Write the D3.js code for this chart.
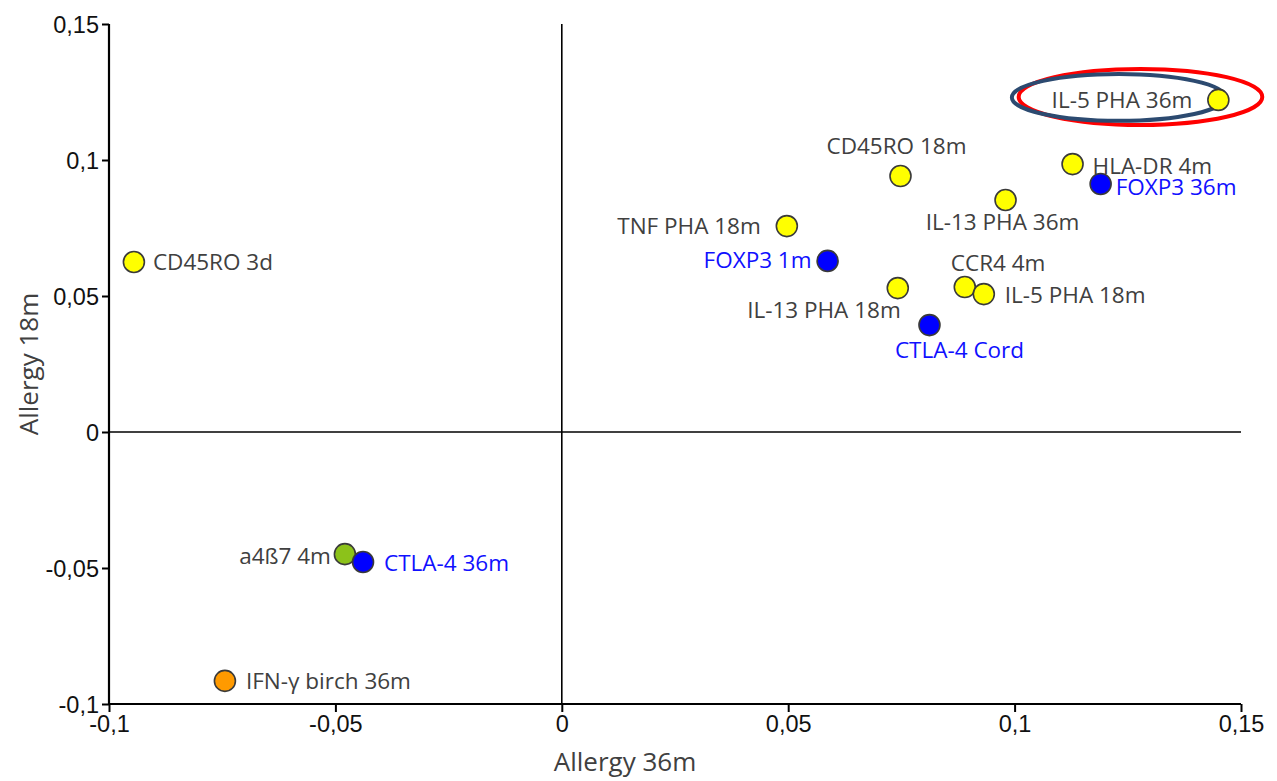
<!DOCTYPE html>
<html>
<head>
<meta charset="utf-8">
<script src="https://cdn.jsdelivr.net/npm/d3@7"></script>
<style>
  body { margin: 0; background: #fff; }
  svg { font-family: "Open Sans", sans-serif; }
</style>
</head>
<body>
<svg id="grafico"></svg>
<script>
// datos
const etiquetas = ["IL-5 PHA 36m", "HLA-DR 4m", "FOXP3 36m", "CD45RO 18m", "IL-13 PHA 36m",
  "TNF PHA 18m", "CD45RO 3d", "FOXP3 1m", "IL-13 PHA 18m", "CCR4 4m",
  "IL-5 PHA 18m", "CTLA-4 Cord", "a4ß7 4m", "CTLA-4 36m", "IFN-γ birch 36m"];
const valoresX = [0.1450, 0.1128, 0.1190, 0.0748, 0.0980,
  0.0497, -0.0945, 0.0587, 0.0742, 0.0890,
  0.0932, 0.0812, -0.0479, -0.0439, -0.0744];
const valoresY = [0.1221, 0.0985, 0.0912, 0.0941, 0.0853,
  0.0757, 0.0625, 0.0629, 0.0529, 0.0533,
  0.0507, 0.0393, -0.0449, -0.0478, -0.0915];
const grupos = ["otro", "otro", "treg", "otro", "otro",
  "otro", "otro", "treg", "otro", "otro",
  "otro", "treg", "integrina", "treg", "ifn"];

const ticksX = [-0.1, -0.05, 0, 0.05, 0.1, 0.15];
const ticksY = [-0.1, -0.05, 0, 0.05, 0.1, 0.15];

// elipses que marcan IL-5 PHA 36m (centro x, centro y, radio x, radio y)
const elipsesCx = [0.1278, 0.1230];
const elipsesCy = [0.1232, 0.1230];
const elipsesRx = [0.0269, 0.0236];
const elipsesRy = [0.0103, 0.0086];

const WIDTH = 1277, HEIGHT = 781;
const margins = { top: 24, bottom: 77, left: 109, right: 36 };

const colorPunto = { otro: "#ffff00", treg: "#0000ff", integrina: "#8cc21a", ifn: "#ff9a00" };
const colorTexto = { otro: "#404040", treg: "#1010ff", integrina: "#404040", ifn: "#404040" };
const colorElipse = ["#ff0000", "#2c4a70"];

// ubicacion de cada etiqueta respecto a su punto
const ubicacion = {
  "IL-5 PHA 36m": { anchor: "end", dx: -26, dy: 0 },
  "HLA-DR 4m": { anchor: "start", dx: 20, dy: 1 },
  "FOXP3 36m": { anchor: "start", dx: 15, dy: 3 },
  "CD45RO 18m": { anchor: "middle", dx: -4, dy: -31 },
  "IL-13 PHA 36m": { anchor: "middle", dx: -3, dy: 22 },
  "TNF PHA 18m": { anchor: "end", dx: -26, dy: -1 },
  "CD45RO 3d": { anchor: "start", dx: 19, dy: -1 },
  "FOXP3 1m": { anchor: "end", dx: -16, dy: -1 },
  "IL-13 PHA 18m": { anchor: "end", dx: 3, dy: 21 },
  "CCR4 4m": { anchor: "start", dx: -14, dy: -25 },
  "IL-5 PHA 18m": { anchor: "start", dx: 21, dy: 0 },
  "CTLA-4 Cord": { anchor: "middle", dx: 30, dy: 24 },
  "a4ß7 4m": { anchor: "end", dx: -14, dy: 1 },
  "CTLA-4 36m": { anchor: "start", dx: 21, dy: 0 },
  "IFN-γ birch 36m": { anchor: "start", dx: 21, dy: 0 }
};

const datos = etiquetas.map((e, i) => ({
  etiqueta: e, x: valoresX[i], y: valoresY[i], grupo: grupos[i]
}));

const locale = d3.formatLocale({ decimal: ",", thousands: ".", grouping: [3], currency: ["", ""], minus: "-" });
const formato = v => v === 0 ? "0" : locale.format("~g")(v);

const svg = d3.select("#grafico")
  .attr("width", WIDTH)
  .attr("height", HEIGHT);

const escalaX = d3.scaleLinear()
  .domain([-0.1, 0.15])
  .range([margins.left, WIDTH - margins.right]);

const escalaY = d3.scaleLinear()
  .domain([-0.1, 0.15])
  .range([HEIGHT - margins.bottom, margins.top]);

// ejes
const ejeY = d3.axisLeft(escalaY)
  .tickValues(ticksY)
  .tickFormat(formato)
  .tickSize(7)
  .tickPadding(3);

const ejeX = d3.axisBottom(escalaX)
  .tickValues(ticksX)
  .tickFormat(formato)
  .tickSize(8)
  .tickPadding(2);

const contenedorEjeY = svg.append("g")
  .attr("transform", `translate(${margins.left} 0)`)
  .call(ejeY);

const contenedorEjeX = svg.append("g")
  .attr("transform", `translate(0 ${HEIGHT - margins.bottom})`)
  .call(ejeX);

[contenedorEjeY, contenedorEjeX].forEach(c => {
  c.select(".domain").attr("stroke", "#000").attr("stroke-width", 2.2);
  c.selectAll(".tick line").attr("stroke", "#000").attr("stroke-width", 2);
  c.selectAll(".tick text")
    .attr("fill", "#111")
    .style("font-size", "23.5px");
});
contenedorEjeY.select(".domain").attr("d", `M0,${escalaY(0.15)}V${escalaY(-0.1)}`);
contenedorEjeX.select(".domain").attr("d", `M${escalaX(-0.1)},0H${escalaX(0.15)}`);
contenedorEjeX.selectAll(".tick text").attr("dy", "0.75em");
contenedorEjeY.selectAll(".tick text").attr("dy", "0.35em");

// lineas del cero
svg.append("line")
  .attr("x1", escalaX(0)).attr("x2", escalaX(0))
  .attr("y1", escalaY(0.15)).attr("y2", escalaY(-0.1))
  .attr("stroke", "#000").attr("stroke-width", 1.6);

svg.append("line")
  .attr("x1", escalaX(-0.1)).attr("x2", escalaX(0.15))
  .attr("y1", escalaY(0)).attr("y2", escalaY(0))
  .attr("stroke", "#000").attr("stroke-width", 1.6);

// titulos
svg.append("text")
  .attr("transform", `translate(625 ${HEIGHT - 10})`)
  .attr("text-anchor", "middle")
  .attr("fill", "#404040")
  .style("font-size", "26px")
  .text("Allergy 36m");

svg.append("text")
  .attr("transform", `translate(31 ${(escalaY(0.15) + escalaY(-0.1)) / 2}) rotate(-90)`)
  .attr("text-anchor", "middle")
  .attr("dominant-baseline", "middle")
  .attr("fill", "#404040")
  .style("font-size", "26px")
  .text("Allergy 18m");

// elipses
svg.append("g")
  .selectAll("ellipse")
  .data(elipsesCx)
  .join("ellipse")
  .attr("cx", d => escalaX(d))
  .attr("cy", (_, i) => escalaY(elipsesCy[i]))
  .attr("rx", (_, i) => escalaX(elipsesRx[i]) - escalaX(0))
  .attr("ry", (_, i) => escalaY(0) - escalaY(elipsesRy[i]))
  .attr("fill", "none")
  .attr("stroke", (_, i) => colorElipse[i])
  .attr("stroke-width", 4);

// etiquetas
svg.append("g")
  .selectAll("text")
  .data(datos)
  .join("text")
  .attr("x", d => escalaX(d.x) + ubicacion[d.etiqueta].dx)
  .attr("y", d => escalaY(d.y) + ubicacion[d.etiqueta].dy)
  .attr("text-anchor", d => ubicacion[d.etiqueta].anchor)
  .attr("dominant-baseline", "central")
  .attr("fill", d => colorTexto[d.grupo])
  .style("font-size", "22.5px")
  .text(d => d.etiqueta);

// puntos
svg.append("g")
  .selectAll("circle")
  .data(datos)
  .join("circle")
  .attr("cx", d => escalaX(d.x))
  .attr("cy", d => escalaY(d.y))
  .attr("r", 10.5)
  .attr("fill", d => colorPunto[d.grupo])
  .attr("stroke", "#3a3a3a")
  .attr("stroke-width", 1.6);
</script>
</body>
</html>
